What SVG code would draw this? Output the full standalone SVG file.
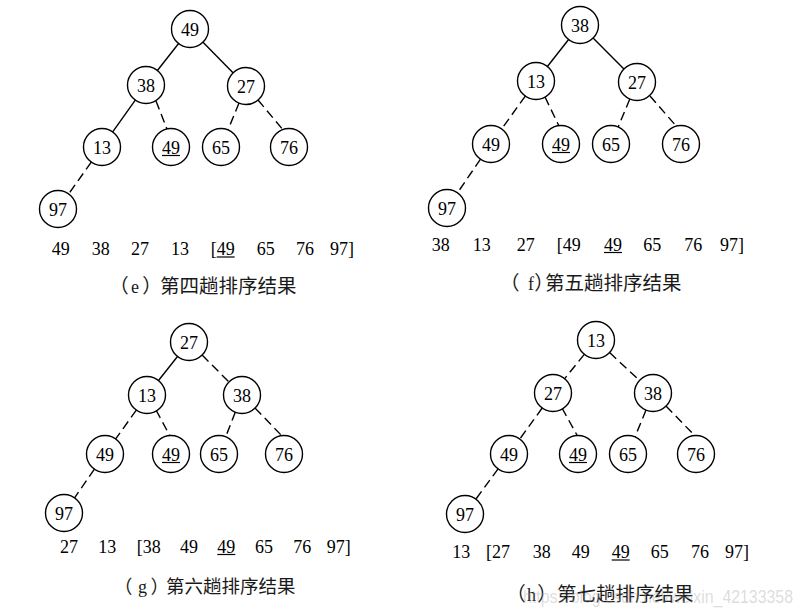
<svg xmlns="http://www.w3.org/2000/svg" width="803" height="615" viewBox="0 0 803 615">
<style>
.n circle{fill:#fff;stroke:#000;stroke-width:1.4}
.n text,.seq text{font-family:"Liberation Serif","Times New Roman",serif;font-size:18px;fill:#000}
.n text{text-anchor:middle}
.u{stroke:#000;stroke-width:1.2}
.s{stroke:#000;stroke-width:1.4;fill:none}
.d{stroke:#000;stroke-width:1.4;fill:none;stroke-dasharray:9 5}
.cap{font-family:"Noto Sans CJK SC",sans-serif;font-size:19.5px;fill:#1a1a1a}
.cap .l{font-family:"Liberation Serif",serif;font-size:18px}
.wm{font-family:"Liberation Sans",Arial,sans-serif;font-size:18px;fill:#9a9a9a;fill-opacity:0.35}
</style>
<rect width="803" height="615" fill="#fff"/>

<g id="connectors">
<!-- e -->
<line class="s" x1="178.6" y1="43.5" x2="157.4" y2="70.5"/>
<line class="s" x1="203" y1="42.2" x2="233" y2="72.8"/>
<line class="s" x1="135.3" y1="100.1" x2="112.7" y2="131.9"/>
<line class="d" x1="156" y1="101" x2="167" y2="129"/>
<line class="d" x1="239" y1="103.1" x2="228" y2="129.9"/>
<line class="d" x1="258" y1="100" x2="284" y2="131"/>
<line class="d" x1="91.3" y1="162.1" x2="68.7" y2="193.9"/>
<!-- f -->
<line class="s" x1="568.6" y1="39.5" x2="547.4" y2="66.5"/>
<line class="s" x1="593.1" y1="38.1" x2="623.9" y2="68.9"/>
<line class="d" x1="525.3" y1="96.1" x2="501.7" y2="128.9"/>
<line class="d" x1="545" y1="97" x2="559" y2="126"/>
<line class="d" x1="629.8" y1="99.1" x2="618.2" y2="126.9"/>
<line class="d" x1="650" y1="96" x2="677" y2="127"/>
<line class="d" x1="480.5" y1="159.2" x2="457.5" y2="192.8"/>
<!-- g -->
<line class="s" x1="177.5" y1="356.5" x2="158.5" y2="380.5"/>
<line class="d" x1="202.1" y1="355.1" x2="228.9" y2="381.9"/>
<line class="d" x1="136.3" y1="410.1" x2="115.7" y2="438.9"/>
<line class="d" x1="156" y1="410" x2="170" y2="436"/>
<line class="d" x1="235.3" y1="412.2" x2="225.7" y2="436.8"/>
<line class="d" x1="255" y1="408" x2="283" y2="437"/>
<line class="d" x1="94.4" y1="469.2" x2="74.6" y2="497.8"/>
<!-- h -->
<line class="d" x1="584.3" y1="354.4" x2="564.7" y2="378.6"/>
<line class="d" x1="609.6" y1="352.6" x2="639.4" y2="380.4"/>
<line class="d" x1="542.2" y1="408" x2="519.8" y2="439"/>
<line class="d" x1="562" y1="408" x2="578" y2="437"/>
<line class="d" x1="646" y1="410.1" x2="635" y2="436.9"/>
<line class="d" x1="666" y1="406" x2="696" y2="437"/>
<line class="d" x1="498.1" y1="468.9" x2="475.9" y2="499.1"/>
</g>

<!-- panel e nodes -->
<g id="e_49" class="n"><circle cx="190" cy="29" r="18.5"/><text x="190" y="35.5">49</text></g>
<g id="e_38" class="n"><circle cx="146" cy="85" r="18.5"/><text x="146" y="91.5">38</text></g>
<g id="e_27" class="n"><circle cx="246" cy="86" r="18.5"/><text x="246" y="92.5">27</text></g>
<g id="e_13" class="n"><circle cx="102" cy="147" r="18.5"/><text x="102" y="153.5">13</text></g>
<g id="e_49u" class="n"><circle cx="171" cy="147" r="18.5"/><text x="171" y="153.5">49</text><line class="u" x1="162" y1="155.5" x2="180" y2="155.5"/></g>
<g id="e_65" class="n"><circle cx="221" cy="147" r="18.5"/><text x="221" y="153.5">65</text></g>
<g id="e_76" class="n"><circle cx="289" cy="147" r="18.5"/><text x="289" y="153.5">76</text></g>
<g id="e_97" class="n"><circle cx="58" cy="209" r="18.5"/><text x="58" y="215.5">97</text></g>

<!-- panel f nodes -->
<g id="f_38" class="n"><circle cx="580" cy="25" r="18.5"/><text x="580" y="31.5">38</text></g>
<g id="f_13" class="n"><circle cx="536" cy="81" r="18.5"/><text x="536" y="87.5">13</text></g>
<g id="f_27" class="n"><circle cx="637" cy="82" r="18.5"/><text x="637" y="88.5">27</text></g>
<g id="f_49" class="n"><circle cx="491" cy="144" r="18.5"/><text x="491" y="150.5">49</text></g>
<g id="f_49u" class="n"><circle cx="561" cy="144" r="18.5"/><text x="561" y="150.5">49</text><line class="u" x1="552" y1="152.5" x2="570" y2="152.5"/></g>
<g id="f_65" class="n"><circle cx="611" cy="144" r="18.5"/><text x="611" y="150.5">65</text></g>
<g id="f_76" class="n"><circle cx="681" cy="144" r="18.5"/><text x="681" y="150.5">76</text></g>
<g id="f_97" class="n"><circle cx="447" cy="208" r="18.5"/><text x="447" y="214.5">97</text></g>

<!-- panel g nodes -->
<g id="g_27" class="n"><circle cx="189" cy="342" r="18.5"/><text x="189" y="348.5">27</text></g>
<g id="g_13" class="n"><circle cx="147" cy="395" r="18.5"/><text x="147" y="401.5">13</text></g>
<g id="g_38" class="n"><circle cx="242" cy="395" r="18.5"/><text x="242" y="401.5">38</text></g>
<g id="g_49" class="n"><circle cx="105" cy="454" r="18.5"/><text x="105" y="460.5">49</text></g>
<g id="g_49u" class="n"><circle cx="171" cy="454" r="18.5"/><text x="171" y="460.5">49</text><line class="u" x1="162" y1="462.5" x2="180" y2="462.5"/></g>
<g id="g_65" class="n"><circle cx="219" cy="454" r="18.5"/><text x="219" y="460.5">65</text></g>
<g id="g_76" class="n"><circle cx="284" cy="454" r="18.5"/><text x="284" y="460.5">76</text></g>
<g id="g_97" class="n"><circle cx="64" cy="513" r="18.5"/><text x="64" y="519.5">97</text></g>

<!-- panel h nodes -->
<g id="h_13" class="n"><circle cx="596" cy="340" r="18.5"/><text x="596" y="346.5">13</text></g>
<g id="h_27" class="n"><circle cx="553" cy="393" r="18.5"/><text x="553" y="399.5">27</text></g>
<g id="h_38" class="n"><circle cx="653" cy="393" r="18.5"/><text x="653" y="399.5">38</text></g>
<g id="h_49" class="n"><circle cx="509" cy="454" r="18.5"/><text x="509" y="460.5">49</text></g>
<g id="h_49u" class="n"><circle cx="578" cy="454" r="18.5"/><text x="578" y="460.5">49</text><line class="u" x1="569" y1="462.5" x2="587" y2="462.5"/></g>
<g id="h_65" class="n"><circle cx="628" cy="454" r="18.5"/><text x="628" y="460.5">65</text></g>
<g id="h_76" class="n"><circle cx="696" cy="454" r="18.5"/><text x="696" y="460.5">76</text></g>
<g id="h_97" class="n"><circle cx="465" cy="514" r="18.5"/><text x="465" y="520.5">97</text></g>

<!-- sequences -->
<g id="seq_e" class="seq">
<text x="51.7" y="255">49</text><text x="91.7" y="255">38</text><text x="131" y="255">27</text><text x="171" y="255">13</text>
<text x="210.7" y="255">[49</text><text x="256.7" y="255">65</text><text x="296" y="255">76</text><text x="330" y="255">97]</text>
<line class="u" x1="216.7" y1="257" x2="234.7" y2="257"/>
</g>
<g id="seq_f" class="seq">
<text x="431.7" y="250.5">38</text><text x="472.7" y="250.5">13</text><text x="516.7" y="250.5">27</text><text x="556.7" y="250.5">[49</text>
<text x="604" y="250.5">49</text><text x="643.3" y="250.5">65</text><text x="684.3" y="250.5">76</text><text x="720" y="250.5">97]</text>
<line class="u" x1="604" y1="252.5" x2="622" y2="252.5"/>
</g>
<g id="seq_g" class="seq">
<text x="60" y="552.5">27</text><text x="98.3" y="552.5">13</text><text x="136.7" y="552.5">[38</text><text x="180" y="552.5">49</text>
<text x="217.3" y="552.5">49</text><text x="255" y="552.5">65</text><text x="293.3" y="552.5">76</text><text x="326.7" y="552.5">97]</text>
<line class="u" x1="217.3" y1="554.5" x2="235.3" y2="554.5"/>
</g>
<g id="seq_h" class="seq">
<text x="452.3" y="558">13</text><text x="486" y="558">[27</text><text x="532.7" y="558">38</text><text x="571.7" y="558">49</text>
<text x="611.7" y="558">49</text><text x="650.7" y="558">65</text><text x="691" y="558">76</text><text x="725" y="558">97]</text>
<line class="u" x1="611.7" y1="560" x2="629.7" y2="560"/>
</g>

<!-- captions -->
<text id="cap_e" class="cap" y="293"><tspan x="109.3">（</tspan><tspan class="l" x="131">e</tspan><tspan x="142.3">）</tspan><tspan x="160">第四趟排序结果</tspan></text>
<text id="cap_f" class="cap" y="290"><tspan x="500">（</tspan><tspan class="l" x="528">f</tspan><tspan x="534.3">）</tspan><tspan x="545">第五趟排序结果</tspan></text>
<text id="cap_g" class="cap" y="593" style="font-size:18.5px"><tspan x="114">（</tspan><tspan class="l" x="138">g</tspan><tspan x="150.4">）</tspan><tspan x="166">第六趟排序结果</tspan></text>
<text id="cap_h" class="cap" y="601"><tspan x="506.3">（</tspan><tspan class="l" x="527">h</tspan><tspan x="537.3">）</tspan><tspan x="557">第七趟排序结果</tspan></text>

<text class="wm" x="523" y="603" textLength="270" lengthAdjust="spacingAndGlyphs">https://blog.csdn.net/weixin_42133358</text>
</svg>
